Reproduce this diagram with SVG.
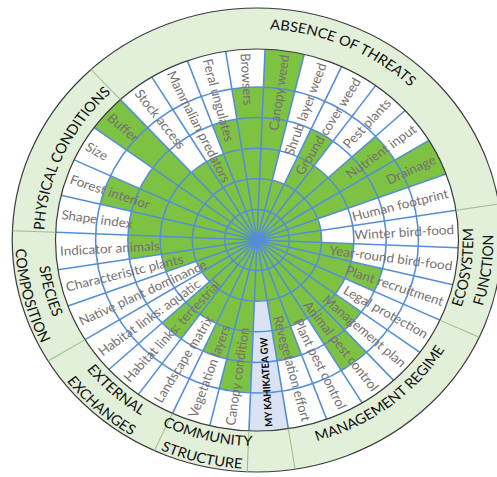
<svg xmlns="http://www.w3.org/2000/svg" width="497" height="477" viewBox="0 0 497 477">
<style>
.rl{font-family:Lato,"Open Sans","Liberation Sans",sans-serif;font-size:12.8px;fill:#767171;dominant-baseline:central}
.rr{text-anchor:end}
.my{font-family:Lato,"Liberation Sans",sans-serif;font-size:9.5px;font-weight:bold;fill:#000;dominant-baseline:central}
.sec{font-family:Lato,"Liberation Sans",sans-serif;font-size:14px;fill:#111}
.g{fill:#7dc243}
.grid{fill:none;stroke:#558ed5;stroke-width:1.5;vector-effect:non-scaling-stroke}
.edge{fill:none;stroke:#3c3c3c;stroke-width:1.2;vector-effect:non-scaling-stroke}
.dv{stroke:#9dbf8a;stroke-width:1;vector-effect:non-scaling-stroke}
</style>
<defs>
<path id="w2" d="M0,0L61.2,0A61.2,61.2 0 0 1 60.024,11.94Z"/>
<path id="w3" d="M0,0L91.8,0A91.8,91.8 0 0 1 90.036,17.909Z"/>
<path id="w4" d="M0,0L122.4,0A122.4,122.4 0 0 1 120.048,23.879Z"/>
<path id="w5" d="M0,0L153,0A153,153 0 0 1 150.06,29.849Z"/>
<path id="w6" d="M0,0L191,0A191,191 0 0 1 187.33,37.262Z"/>
<line id="sp" x1="0" y1="0" x2="191" y2="0"/>
<line id="dl" x1="191" y1="0" x2="232" y2="0"/>
<path id="pAbs" d="M-163.6,-133.3A211,211 0 0 1 210.98,-3.04"/>
<path id="pPhy" d="M-142.3,143.3A202,202 0 0 1 16.9,-201.3"/>
<path id="pEco1" d="M42.88,200.47A205,205 0 0 0 96,-181.13"/>
<path id="pEco2" d="M46.86,219.05A224,224 0 0 0 104.9,-197.92"/>
<path id="pMan" d="M-113.6,175.43A209,209 0 0 0 199.79,-61.37"/>
<path id="pCom1" d="M-204.7,23.14A206,206 0 0 0 171.68,113.85"/>
<path id="pCom2" d="M-227.55,25.72A229,229 0 0 0 190.85,126.56"/>
<path id="pExt1" d="M-192.37,-76.45A207,207 0 0 0 98.22,182.22"/>
<path id="pExt2" d="M-212.81,-84.58A229,229 0 0 0 108.66,201.58"/>
<path id="pSpe1" d="M-118.04,-171.27A208,208 0 0 0 -19.66,207.07"/>
<path id="pSpe2" d="M-129.96,-188.56A229,229 0 0 0 -21.65,227.97"/>
</defs>
<rect width="497" height="477" fill="#fff"/>
<g transform="translate(257,240) scale(1.055,1)">
<g id="band">
<circle r="232" fill="#e2efd9"/>
<circle r="191" fill="#fff"/>
</g>
<g id="bars" class="g">
<use href="#w5" transform="rotate(92.3)"/>
<use href="#w4" transform="rotate(103.55)"/>
<use href="#w3" transform="rotate(114.8)"/>
<use href="#w4" transform="rotate(126.05)"/>
<use href="#w2" transform="rotate(137.3)"/>
<use href="#w2" transform="rotate(148.55)"/>
<use href="#w3" transform="rotate(159.8)"/>
<use href="#w4" transform="rotate(171.05)"/>
<use href="#w4" transform="rotate(182.3)"/>
<use href="#w5" transform="rotate(193.55)"/>
<use href="#w4" transform="rotate(204.8)"/>
<use href="#w6" transform="rotate(216.05)"/>
<use href="#w3" transform="rotate(227.3)"/>
<use href="#w3" transform="rotate(238.55)"/>
<use href="#w4" transform="rotate(249.8)"/>
<use href="#w5" transform="rotate(261.05)"/>
<use href="#w6" transform="rotate(272.3)"/>
<use href="#w2" transform="rotate(283.55)"/>
<use href="#w4" transform="rotate(294.8)"/>
<use href="#w3" transform="rotate(306.05)"/>
<use href="#w5" transform="rotate(317.3)"/>
<use href="#w6" transform="rotate(328.55)"/>
<use href="#w2" transform="rotate(339.8)"/>
<use href="#w2" transform="rotate(351.05)"/>
<use href="#w3" transform="rotate(2.3)"/>
<use href="#w4" transform="rotate(13.55)"/>
<use href="#w3" transform="rotate(24.8)"/>
<use href="#w4" transform="rotate(36.05)"/>
<use href="#w5" transform="rotate(47.3)"/>
<use href="#w3" transform="rotate(58.55)"/>
<use href="#w4" transform="rotate(69.8)"/>
<use href="#w6" transform="rotate(81.05)" fill="#dae3f3"/>
<use href="#w2" transform="rotate(81.05)"/>
</g>
<g id="grid" class="grid">
<circle r="30.6"/><circle r="61.2"/><circle r="91.8"/><circle r="122.4"/><circle r="153"/>
<use href="#sp" transform="rotate(92.3)"/><use href="#sp" transform="rotate(103.55)"/><use href="#sp" transform="rotate(114.8)"/><use href="#sp" transform="rotate(126.05)"/>
<use href="#sp" transform="rotate(137.3)"/><use href="#sp" transform="rotate(148.55)"/><use href="#sp" transform="rotate(159.8)"/><use href="#sp" transform="rotate(171.05)"/>
<use href="#sp" transform="rotate(182.3)"/><use href="#sp" transform="rotate(193.55)"/><use href="#sp" transform="rotate(204.8)"/><use href="#sp" transform="rotate(216.05)"/>
<use href="#sp" transform="rotate(227.3)"/><use href="#sp" transform="rotate(238.55)"/><use href="#sp" transform="rotate(249.8)"/><use href="#sp" transform="rotate(261.05)"/>
<use href="#sp" transform="rotate(272.3)"/><use href="#sp" transform="rotate(283.55)"/><use href="#sp" transform="rotate(294.8)"/><use href="#sp" transform="rotate(306.05)"/>
<use href="#sp" transform="rotate(317.3)"/><use href="#sp" transform="rotate(328.55)"/><use href="#sp" transform="rotate(339.8)"/><use href="#sp" transform="rotate(351.05)"/>
<use href="#sp" transform="rotate(2.3)"/><use href="#sp" transform="rotate(13.55)"/><use href="#sp" transform="rotate(24.8)"/><use href="#sp" transform="rotate(36.05)"/>
<use href="#sp" transform="rotate(47.3)"/><use href="#sp" transform="rotate(58.55)"/><use href="#sp" transform="rotate(69.8)"/><use href="#sp" transform="rotate(81.05)"/>
<circle r="7" fill="#558ed5" stroke="none"/>
</g>
<g id="outline">
<circle class="edge" r="191"/>
<circle class="edge" r="232"/>
</g>
<g id="dividers" class="dv">
<use href="#dl" transform="rotate(92.3)"/><use href="#dl" transform="rotate(114.8)"/><use href="#dl" transform="rotate(148.55)"/><use href="#dl" transform="rotate(182.3)"/>
<use href="#dl" transform="rotate(227.3)"/><use href="#dl" transform="rotate(351.05)"/><use href="#dl" transform="rotate(24.8)"/><use href="#dl" transform="rotate(81.05)"/>
</g>
<g id="labels">
<text class="rl" transform="rotate(-82.075)" x="-187">Canopy condition</text>
<text class="rl" transform="rotate(-70.825)" x="-187">Vegetation layers</text>
<text class="rl" transform="rotate(-59.575)" x="-187">Landscape matrix</text>
<text class="rl" transform="rotate(-48.325)" x="-187">Habitat links: terrestrial</text>
<text class="rl" transform="rotate(-37.075)" x="-187">Habitat links: aquatic</text>
<text class="rl" transform="rotate(-25.825)" x="-187">Native plant dominance</text>
<text class="rl" transform="rotate(-14.575)" x="-187">Characterisitc plants</text>
<text class="rl" transform="rotate(-3.325)" x="-187">Indicator animals</text>
<text class="rl" transform="rotate(7.925)" x="-187">Shape index</text>
<text class="rl" transform="rotate(19.175)" x="-187">Forest interior</text>
<text class="rl" transform="rotate(30.425)" x="-187">Size</text>
<text class="rl" transform="rotate(41.675)" x="-187">Buffer</text>
<text class="rl" transform="rotate(52.925)" x="-187">Stock access</text>
<text class="rl" transform="rotate(64.175)" x="-187">Mammalian predators</text>
<text class="rl" transform="rotate(75.425)" x="-187">Feral ungulates</text>
<text class="rl" transform="rotate(86.675)" x="-187">Browsers</text>
<text class="rl rr" transform="rotate(-82.075)" x="187">Canopy weed</text>
<text class="rl rr" transform="rotate(-70.825)" x="187">Shrub layer weed</text>
<text class="rl rr" transform="rotate(-59.575)" x="187">Ground cover weed</text>
<text class="rl rr" transform="rotate(-48.325)" x="187">Pest plants</text>
<text class="rl rr" transform="rotate(-37.075)" x="187">Nutrient input</text>
<text class="rl rr" transform="rotate(-25.825)" x="187">Drainage</text>
<text class="rl rr" transform="rotate(-14.575)" x="187">Human footprint</text>
<text class="rl rr" transform="rotate(-3.325)" x="187">Winter bird-food</text>
<text class="rl rr" transform="rotate(7.925)" x="187">Year-round bird-food</text>
<text class="rl rr" transform="rotate(19.175)" x="187">Plant recruitment</text>
<text class="rl rr" transform="rotate(30.425)" x="187">Legal protection</text>
<text class="rl rr" transform="rotate(41.675)" x="187">Management plan</text>
<text class="rl rr" transform="rotate(52.925)" x="187">Animal pest control</text>
<text class="rl rr" transform="rotate(64.175)" x="187">Plant pest control</text>
<text class="rl rr" transform="rotate(75.425)" x="187">Revegetation effort</text>
<text class="my" transform="rotate(-93.325)" x="-187">MY KAHIKATEA GW</text>
</g>
<g id="sections" class="sec" text-anchor="middle">
<text><textPath href="#pAbs" startOffset="53%">ABSENCE OF THREATS</textPath></text>
<text><textPath href="#pPhy" startOffset="50%">PHYSICAL CONDITIONS</textPath></text>
<text><textPath href="#pEco1" startOffset="50%">ECOSYSTEM</textPath></text>
<text><textPath href="#pEco2" startOffset="50%">FUNCTION</textPath></text>
<text><textPath href="#pMan" startOffset="50%">MANAGEMENT REGIME</textPath></text>
<text><textPath href="#pCom1" startOffset="50%">COMMUNITY</textPath></text>
<text><textPath href="#pCom2" startOffset="50%">STRUCTURE</textPath></text>
<text><textPath href="#pExt1" startOffset="50%">EXTERNAL</textPath></text>
<text><textPath href="#pExt2" startOffset="50%">EXCHANGES</textPath></text>
<text><textPath href="#pSpe1" startOffset="50%">SPECIES</textPath></text>
<text><textPath href="#pSpe2" startOffset="50%">COMPOSITION</textPath></text>
</g>
</g>
</svg>
